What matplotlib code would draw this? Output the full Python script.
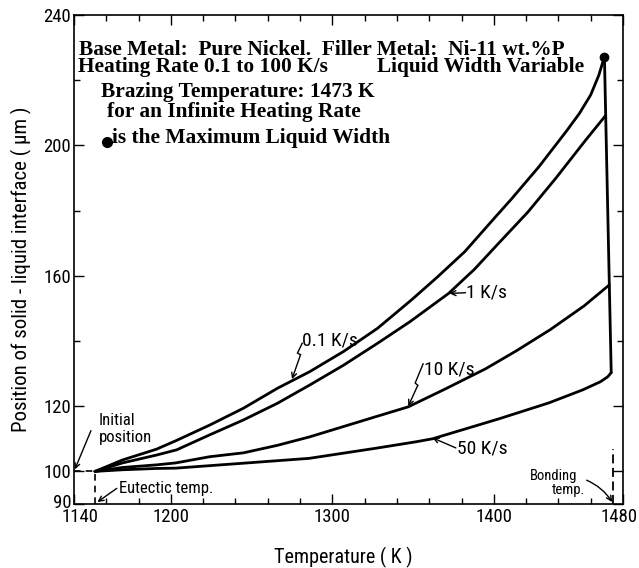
import matplotlib
matplotlib.use("Agg")
import matplotlib.pyplot as plt
import matplotlib.transforms as mtransforms
from matplotlib import font_manager as fm
from matplotlib.ticker import FixedLocator


def narrow_sans():
    """Pick a narrow sans-serif face if one is installed."""
    names = {f.name for f in fm.fontManager.ttflist}
    for name in ['Liberation Sans Narrow', 'Roboto Condensed', 'Noto Sans Condensed',
                 'Open Sans Condensed']:
        if name in names:
            return name, 'normal', True
    for f in fm.fontManager.ttflist:
        if f.stretch in ('condensed', 'semi-condensed') and f.style == 'normal' \
                and f.weight in (400, 'normal', 'regular') and 'Sans' in f.name:
            return f.name, f.stretch, True
    return 'DejaVu Sans', 'normal', False


SANS_NAME, SANS_STRETCH, IS_NARROW = narrow_sans()
plt.rcParams['font.family'] = [SANS_NAME, 'DejaVu Sans']
plt.rcParams['font.stretch'] = SANS_STRETCH
SERIF = ['Liberation Serif', 'DejaVu Serif']

TICK_FS = 13.5 if IS_NARROW else 11.5
LABEL_FS = 14.5 if IS_NARROW else 12.5
CURVE_FS = 14 if IS_NARROW else 12
NOTE_FS = 12 if IS_NARROW else 9.5
BOND_FS = 10.5 if IS_NARROW else 9

# Interface position (um) versus temperature (K) for each heating rate
temp_01 = [1153, 1170, 1191, 1203.5, 1224, 1245, 1266, 1286, 1307, 1328, 1349, 1365,
           1382, 1400, 1411, 1428, 1445, 1453, 1460, 1465, 1468.5]
pos_01 = [100, 103.5, 106.8, 109.5, 114.2, 119.4, 125.5, 130.6, 136.8, 143.9, 152.6,
          159.6, 167.4, 177.5, 183.6, 193.5, 204.4, 209.8, 215.5, 221.5, 227.2]

temp_1 = [1153, 1170, 1191, 1203.5, 1224, 1245, 1266, 1286, 1307, 1328, 1348, 1372,
          1388, 1403, 1421, 1438.5, 1457, 1469.3]
pos_1 = [100, 102.6, 105.0, 106.6, 111.2, 115.8, 120.9, 126.5, 132.6, 139.3, 145.9,
         154.6, 162.0, 170.0, 179.5, 190.0, 201.7, 209.2]

temp_10 = [1153, 1170, 1191, 1203, 1224, 1245, 1266, 1286, 1306.5, 1327, 1347, 1370,
           1395, 1414, 1435, 1456, 1471.5]
pos_10 = [100, 101.2, 102.0, 102.6, 104.5, 105.7, 108.0, 110.6, 113.7, 116.8, 119.8,
          125.3, 131.5, 137.0, 143.5, 150.8, 157.2]

temp_50 = [1153, 1170, 1191, 1203, 1244.5, 1285.6, 1326.9, 1352, 1362, 1403, 1434,
           1455, 1466, 1470.5, 1472.7]
pos_50 = [100, 100.5, 100.9, 101.0, 102.5, 104.0, 107.1, 109.1, 110.0, 116.1, 121.0,
          125.0, 127.5, 129.0, 130.3]

# Maximum liquid width (end of the 0.1 K/s curve)
max_temp = 1468.5
max_pos = 227.2

eutectic_temp = 1153
bonding_temp = 1474
initial_pos = 100

x_ticks = [1140, 1200, 1300, 1400, 1480]
y_ticks = [90, 100, 120, 160, 200, 240]
y_minor = [140, 180, 220]

fig = plt.figure(figsize=(6.39, 5.68), dpi=100)
ax = fig.add_axes([74 / 639, 1 - 504 / 568, 549 / 639, 489 / 568])
ax.set_xlim(1140, 1480)
ax.set_ylim(90, 240)

lw = 2.0
for t, p in [(temp_01, pos_01), (temp_1, pos_1), (temp_10, pos_10), (temp_50, pos_50)]:
    ax.plot(t, p, color='black', lw=lw, solid_capstyle='round', solid_joinstyle='round')

# isothermal solidification line joining the curve ends
ax.plot([max_temp, temp_50[-1]], [max_pos, pos_50[-1]], color='black', lw=lw,
        solid_capstyle='round')
ax.plot([max_temp], [max_pos], 'o', color='black', ms=6)

# eutectic and bonding markers
ax.plot([1140, eutectic_temp], [initial_pos, initial_pos], color='black', lw=1.2,
        ls=(0, (4, 3)))
ax.plot([eutectic_temp, eutectic_temp], [90, initial_pos], color='black', lw=1.2,
        ls=(0, (4, 3)))
ax.plot([bonding_temp, bonding_temp], [90, 107], color='black', lw=1.3,
        ls=(0, (5, 2.5)))

# axes styling
for s in ax.spines.values():
    s.set_linewidth(1.2)
ax.set_xticks(x_ticks)
ax.xaxis.set_minor_locator(FixedLocator(list(range(1160, 1480, 20))))
ax.set_yticks(y_ticks)
ax.yaxis.set_minor_locator(FixedLocator(y_minor))
ax.tick_params(which='both', direction='in', top=True, right=True, width=1.0,
               labelsize=TICK_FS)
ax.tick_params(which='major', length=7)
ax.tick_params(which='minor', length=4.5)
ax.tick_params(axis='x', pad=3)
ax.tick_params(axis='y', pad=2)

# nudge the corner labels apart
xlabels = ax.get_xticklabels()
xlabels[0].set_transform(xlabels[0].get_transform() +
                         mtransforms.ScaledTranslation(6 / 100, 0, fig.dpi_scale_trans))
xlabels[-1].set_transform(xlabels[-1].get_transform() +
                          mtransforms.ScaledTranslation(-4 / 100, 0, fig.dpi_scale_trans))
ylabels = ax.get_yticklabels()
ylabels[0].set_transform(ylabels[0].get_transform() +
                         mtransforms.ScaledTranslation(0, 3 / 100, fig.dpi_scale_trans))

ax.set_xlabel('Temperature ( K )', fontsize=LABEL_FS)
ax.xaxis.set_label_coords(0.49, -0.088)
ax.set_ylabel('Position of solid - liquid interface ( μm )', fontsize=LABEL_FS + 0.5)
ax.yaxis.set_label_coords(-0.077, 0.48)

# header block
hdr = dict(transform=ax.transAxes, family=SERIF, weight='bold', fontsize=15.4,
           ha='left', va='baseline')
ax.text(0.009, 0.918, 'Base Metal:  Pure Nickel.  Filler Metal:  Ni-11 wt.%P', **hdr)
ax.text(0.008, 0.884, 'Heating Rate 0.1 to 100 K/s', **hdr)
ax.text(0.5525, 0.884, 'Liquid Width Variable', **hdr)
ax.text(0.049, 0.833, 'Brazing Temperature: 1473 K', **hdr)
ax.text(0.061, 0.792, 'for an Infinite Heating Rate', **hdr)
ax.plot([0.0595], [0.7405], 'o', color='black', ms=7, transform=ax.transAxes)
ax.text(0.0687, 0.7376, 'is the Maximum Liquid Width', **hdr)

# curve labels with pointers
arrow = dict(arrowstyle='->', color='black', lw=1.0, shrinkA=0, shrinkB=0,
             mutation_scale=9)


def pointer(path):
    """Zig-zag leader: a polyline whose last leg ends in an arrowhead."""
    xs, ys = zip(*path[:-1])
    ax.plot(xs, ys, color='black', lw=1.0, solid_joinstyle='miter')
    ax.annotate('', xy=path[-1], xytext=path[-2], arrowprops=arrow)


lab = dict(fontsize=CURVE_FS, ha='left', va='center')
pointer([(1281.3, 139.3), (1278.4, 136.3), (1280.3, 135.8), (1275, 128.3)])
ax.text(1281.5, 140.3, '0.1 K/s', **lab)
ax.annotate('', xy=(1372.5, 154.6), xytext=(1382.5, 154.8), arrowprops=arrow)
ax.text(1383, 155, '1 K/s', **lab)
pointer([(1356.2, 133.0), (1351.3, 127.1), (1352.9, 126.4), (1347, 120.0)])
ax.text(1356.6, 131.4, '10 K/s', **lab)
ax.annotate('', xy=(1362, 110.3), xytext=(1376.5, 107.2), arrowprops=arrow)
ax.text(1377.5, 106.9, '50 K/s', **lab)

small = dict(fontsize=NOTE_FS, ha='left', va='center')
ax.text(1155.5, 113, 'Initial\nposition', linespacing=1.1, **small)
ax.annotate('', xy=(1140.5, 100.6), xytext=(1150.5, 112.5), arrowprops=arrow)
ax.text(1168, 94.9, 'Eutectic temp.', **small)
ax.annotate('', xy=(1154.5, 90.6), xytext=(1166.5, 94.8), arrowprops=arrow)
ax.text(1422.3, 98.6, 'Bonding', fontsize=BOND_FS, ha='left', va='center')
ax.text(1435.9, 94.3, 'temp.', fontsize=BOND_FS, ha='left', va='center')
ax.annotate('', xy=(1473.3, 90.6), xytext=(1457.5, 97.3),
            arrowprops=dict(arrowstyle='->', color='black', lw=1.0, shrinkA=0,
                            shrinkB=0, mutation_scale=9,
                            connectionstyle='arc3,rad=-0.15'))

fig.savefig('out.png', dpi=100)
